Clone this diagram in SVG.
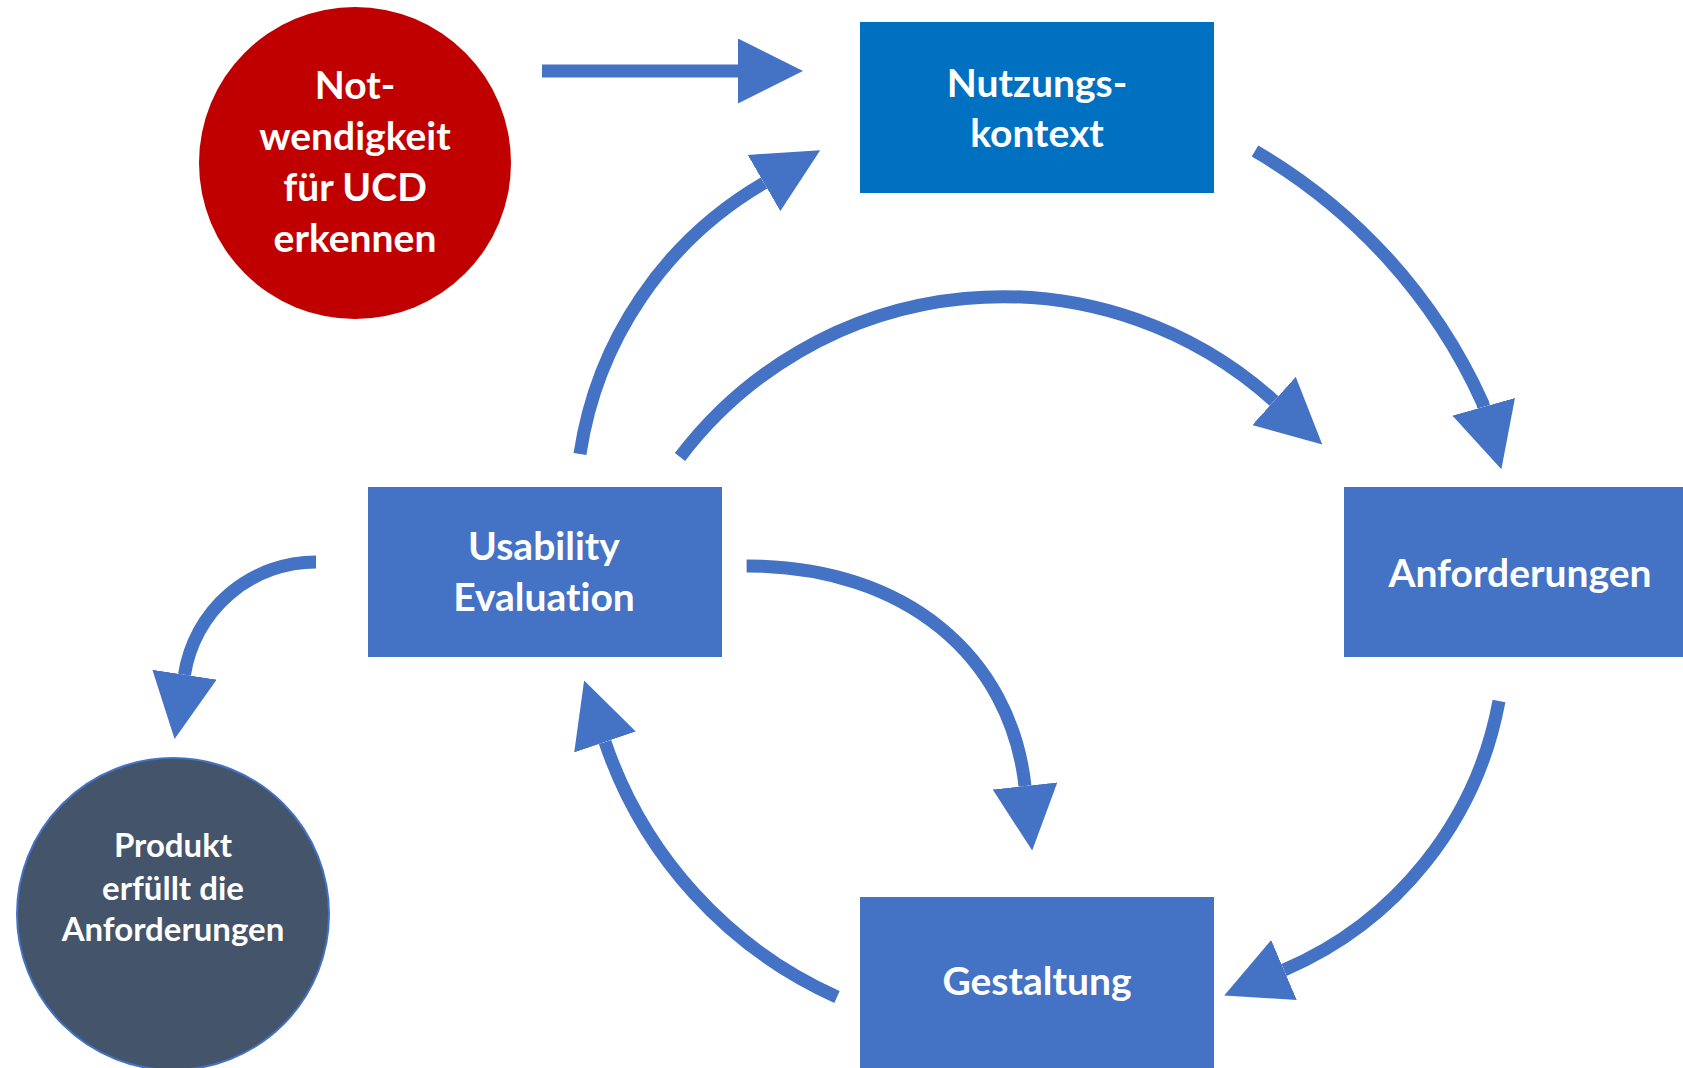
<svg xmlns="http://www.w3.org/2000/svg" width="1683" height="1068" viewBox="0 0 1683 1068">
  <style>
    .lbl { font-family: "Lato", "Liberation Sans", sans-serif; font-weight: 700; fill: #FFFFFF; text-anchor: middle; font-variant-ligatures: none; }
    .big { font-size: 39px; }
    .small { font-size: 33px; }
    .box { fill: #4472C4; }
    .flow { fill: none; stroke: #4472C4; stroke-width: 13; stroke-linecap: butt; marker-end: url(#head); }
  </style>
  <defs>
    <marker id="head" viewBox="0 0 10 10" refX="0" refY="5" markerWidth="5" markerHeight="5" orient="auto" markerUnits="strokeWidth">
      <path d="M0,0 L10,5 L0,10 Z" fill="#4472C4"/>
    </marker>
  </defs>
  <rect width="1683" height="1068" fill="#FFFFFF"/>

  <g id="connectors">
    <!-- start trigger into the cycle -->
    <path class="flow" d="M542,71 H738"/>
    <!-- Nutzungskontext to Anforderungen (short last step sets the head angle) -->
    <path class="flow" d="M1255,151 A558,558 0 0 1 1482.6,402.9 L1483.7,406.8"/>
    <!-- Usability Evaluation back to Nutzungskontext -->
    <path class="flow" d="M580,454 A378,378 0 0 1 764,183"/>
    <!-- Usability Evaluation back to Anforderungen -->
    <path class="flow" d="M680,457 A405,405 0 0 1 1274,401"/>
    <!-- Usability Evaluation back to Gestaltung -->
    <path class="flow" d="M746.6,566 C906.6,566 1010.7,657.3 1025,786"/>
    <!-- Gestaltung to Usability Evaluation -->
    <path class="flow" d="M837,997 A431,431 0 0 1 605,742"/>
    <!-- Anforderungen to Gestaltung -->
    <path class="flow" d="M1499,701 A364,364 0 0 1 1284,970"/>
    <!-- exit: product meets the requirements -->
    <path class="flow" d="M316,562 A133,133 0 0 0 184.5,674.7"/>
  </g>

  <g id="node-notwendigkeit">
    <circle cx="355" cy="163" r="156" fill="#C00000"/>
    <text class="lbl big" x="355" y="99">Not-</text>
    <text class="lbl big" x="355" y="150">wendigkeit</text>
    <text class="lbl big" x="355" y="201">für UCD</text>
    <text class="lbl big" x="355" y="252">erkennen</text>
  </g>

  <g id="node-nutzungskontext">
    <rect x="860" y="22" width="354" height="171" fill="#0070C0"/>
    <text class="lbl big" x="1037" y="97">Nutzungs-</text>
    <text class="lbl big" x="1037" y="147">kontext</text>
  </g>

  <g id="node-anforderungen">
    <rect class="box" x="1344" y="487" width="345" height="170"/>
    <text class="lbl big" x="1520" y="587">Anforderungen</text>
  </g>

  <g id="node-usability">
    <rect class="box" x="368" y="487" width="354" height="170"/>
    <text class="lbl big" x="544" y="560">Usability</text>
    <text class="lbl big" x="544" y="611">Evaluation</text>
  </g>

  <g id="node-gestaltung">
    <rect class="box" x="860" y="897" width="354" height="175"/>
    <text class="lbl big" x="1037" y="995">Gestaltung</text>
  </g>

  <g id="node-produkt">
    <circle cx="173" cy="914" r="156" fill="#44546A" stroke="#4472C4" stroke-width="2"/>
    <text class="lbl small" x="173" y="857">Produkt</text>
    <text class="lbl small" x="173" y="900">erfüllt die</text>
    <text class="lbl small" x="173" y="941">Anforderungen</text>
  </g>
</svg>
